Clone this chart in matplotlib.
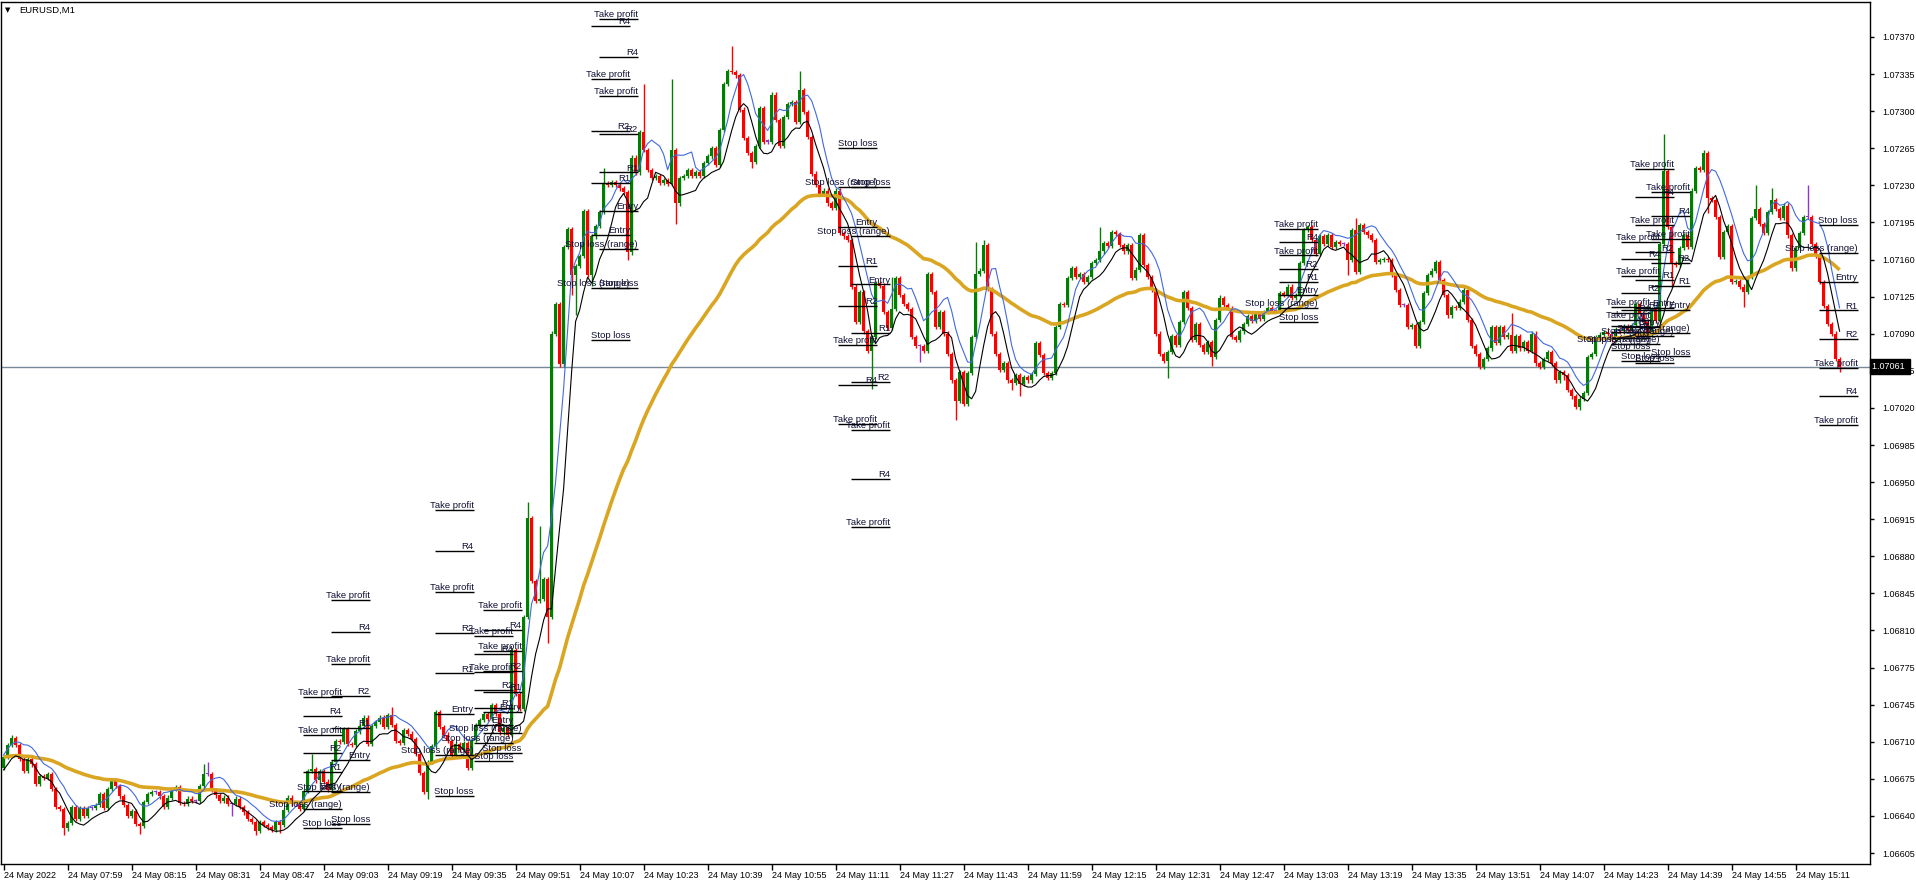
import numpy as np
import pandas as pd
import matplotlib
matplotlib.use('Agg')
import matplotlib.pyplot as plt
import matplotlib.transforms as mtransforms

plt.rcParams['font.family'] = ['Liberation Sans', 'DejaVu Sans']

# EURUSD M1, 24 May 2022 from 07:43, one close per minute, in points above 1.06000
closes = [
    695, 706, 713, 706, 693, 682, 693, 688, 670, 677, 675, 679, 665, 648, 646, 628, 633, 648, 637, 647,
    640, 647, 647, 650, 660, 647, 665, 673, 668, 658, 650, 640, 644, 632, 630, 653, 660, 662, 662, 658,
    648, 657, 665, 667, 652, 651, 656, 654, 654, 668, 679, 679, 664, 659, 654, 657, 651, 651, 656, 648,
    643, 637, 634, 626, 634, 631, 629, 627, 634, 631, 645, 657, 651, 651, 646, 663, 682, 684, 673, 682,
    672, 664, 690, 710, 709, 721, 707, 706, 719, 724, 732, 707, 724, 728, 732, 723, 734, 725, 710, 708,
    720, 717, 712, 698, 680, 662, 690, 705, 737, 723, 716, 710, 697, 707, 702, 708, 685, 711, 725, 730,
    735, 731, 744, 735, 718, 722, 716, 795, 754, 740, 826, 919, 860, 841, 843, 862, 826, 1092, 1120, 1063,
    1173, 1190, 1147, 1155, 1165, 1207, 1147, 1183, 1193, 1206, 1233, 1231, 1234, 1231, 1228, 1225, 1168, 1257, 1243, 1281,
    1264, 1245, 1238, 1240, 1233, 1236, 1232, 1264, 1214, 1238, 1240, 1245, 1240, 1243, 1240, 1252, 1258, 1266, 1250, 1283,
    1326, 1338, 1337, 1334, 1302, 1275, 1261, 1253, 1268, 1303, 1272, 1272, 1316, 1292, 1268, 1295, 1307, 1309, 1290, 1320,
    1300, 1276, 1242, 1231, 1223, 1226, 1214, 1210, 1226, 1186, 1183, 1180, 1136, 1103, 1131, 1094, 1076, 1089, 1139, 1137,
    1112, 1097, 1115, 1144, 1128, 1120, 1115, 1089, 1080, 1080, 1076, 1148, 1131, 1098, 1112, 1092, 1073, 1048, 1029, 1056,
    1026, 1055, 1089, 1148, 1151, 1175, 1134, 1092, 1073, 1058, 1064, 1048, 1046, 1053, 1045, 1051, 1048, 1054, 1083, 1072,
    1055, 1050, 1055, 1098, 1120, 1119, 1144, 1153, 1145, 1148, 1140, 1145, 1158, 1161, 1169, 1177, 1174, 1187, 1185, 1175,
    1169, 1175, 1144, 1152, 1184, 1156, 1145, 1133, 1092, 1073, 1066, 1075, 1090, 1081, 1103, 1131, 1116, 1086, 1101, 1081,
    1075, 1084, 1070, 1105, 1125, 1119, 1116, 1089, 1086, 1094, 1101, 1108, 1104, 1111, 1106, 1112, 1116, 1113, 1113, 1130,
    1128, 1136, 1125, 1128, 1158, 1189, 1192, 1180, 1167, 1183, 1176, 1184, 1173, 1178, 1176, 1176, 1161, 1189, 1150, 1194,
    1187, 1184, 1180, 1159, 1161, 1162, 1161, 1147, 1133, 1119, 1119, 1098, 1100, 1080, 1103, 1130, 1147, 1151, 1159, 1142,
    1128, 1109, 1117, 1116, 1122, 1133, 1105, 1080, 1073, 1061, 1068, 1078, 1098, 1083, 1098, 1089, 1091, 1076, 1090, 1078,
    1084, 1076, 1092, 1064, 1061, 1068, 1075, 1064, 1048, 1056, 1053, 1039, 1033, 1023, 1031, 1036, 1070, 1073, 1089, 1091,
    1093, 1092, 1086, 1096, 1094, 1099, 1095, 1100, 1120, 1110, 1103, 1092, 1115, 1104, 1176, 1244, 1192, 1158, 1156, 1172,
    1184, 1173, 1226, 1247, 1245, 1261, 1219, 1217, 1201, 1164, 1187, 1193, 1140, 1141, 1136, 1131, 1145, 1200, 1209, 1195,
    1186, 1206, 1217, 1209, 1200, 1212, 1184, 1153, 1172, 1186, 1201, 1201, 1176, 1165, 1140, 1118, 1101, 1092, 1068, 1061,
]
first_open = 685

# long wicks (bar -> points)
wick_highs = {2: 716, 50: 688, 51: 690, 77: 698, 97: 742, 131: 934, 134: 912, 150: 1247,
              160: 1326, 167: 1331, 182: 1362, 199: 1338, 222: 1145, 243: 1178, 245: 1180,
              274: 1192, 304: 1128, 338: 1200, 358: 1161, 365: 1136, 377: 1111, 415: 1279,
              425: 1264, 438: 1231, 442: 1228, 451: 1231}
wick_lows = {15: 622, 34: 623, 57: 640, 63: 622, 69: 624, 106: 656, 136: 802, 142: 1128,
             143: 1109, 147: 1137, 156: 1161, 168: 1195, 187: 1247, 217: 1040, 229: 1065,
             238: 1011, 252: 1039, 254: 1033, 291: 1050, 302: 1062, 336: 1147, 390: 1048,
             394: 1020, 417: 1136, 426: 1205, 435: 1117, 459: 1056}

# trade level objects: right end (bar), entry (points), level spacing (points, < 0 = short)
setup_end = [84.5, 91.6, 117.5, 127.4, 129.5, 156.6, 158.6, 218.4, 221.6, 328.6,
             411.6, 414.1, 417.6, 421.6, 463.5]
setup_entry = [663.5, 692, 735, 724.6, 737, 1184, 1207, 1192, 1138, 1128,
               1087.7, 1098, 1116, 1114.5, 1140.4]
setup_step = [17.5, 30, 38.3, 16.8, 19.2, 49, 36, -37, -45.5, 12.4,
              5.8, 16, 26, 22, -26.8]
level_names = [(5, 'Take profit'), (4, 'R4'), (3, 'Take profit'), (2, 'R2'), (1, 'R1'),
               (0, 'Entry'), (-1, 'Stop loss (range)'), (-2, 'Stop loss')]

time_labels = ['24 May 2022', '24 May 07:59', '24 May 08:15', '24 May 08:31', '24 May 08:47',
               '24 May 09:03', '24 May 09:19', '24 May 09:35', '24 May 09:51', '24 May 10:07',
               '24 May 10:23', '24 May 10:39', '24 May 10:55', '24 May 11:11', '24 May 11:27',
               '24 May 11:43', '24 May 11:59', '24 May 12:15', '24 May 12:31', '24 May 12:47',
               '24 May 13:03', '24 May 13:19', '24 May 13:35', '24 May 13:51', '24 May 14:07',
               '24 May 14:23', '24 May 14:39', '24 May 14:55', '24 May 15:11']
price_labels = ['1.07370', '1.07335', '1.07300', '1.07265', '1.07230', '1.07195', '1.07160',
                '1.07125', '1.07090', '1.07055', '1.07020', '1.06985', '1.06950', '1.06915',
                '1.06880', '1.06845', '1.06810', '1.06775', '1.06745', '1.06710', '1.06675',
                '1.06640', '1.06605']
last_price = 1.07061

pt = 1e-5
cl_pts = np.array(closes)
op_pts = np.r_[first_open, cl_pts[:-1]]
c = 1.06 + cl_pts * pt
o = 1.06 + op_pts * pt
hi = np.maximum(o, c) + 2 * pt
lo = np.minimum(o, c) - 2 * pt
for k, v in wick_highs.items():
    hi[k] = max(hi[k], 1.06 + v * pt)
for k, v in wick_lows.items():
    lo[k] = min(lo[k], 1.06 + v * pt)
n = len(c)
x = np.arange(n)

fig = plt.figure(figsize=(19.16, 8.8), dpi=100)
ax = fig.add_axes([1 / 1916, 16 / 880, 1869 / 1916, 862 / 880])
y0, y1 = 1.065947, 1.074028
ax.set_xlim(-0.65, 466.6)
ax.set_ylim(y0, y1)

# candles
cols = np.where(cl_pts > op_pts, '#008000', np.where(cl_pts < op_pts, '#ff0000', '#9932cc'))
ax.vlines(x, lo, hi, colors=cols, linewidth=1, zorder=2)
ax.bar(x, np.maximum(np.abs(c - o), pt), bottom=np.minimum(o, c), width=0.72,
       color=cols, linewidth=0, zorder=3)

# moving averages
ma_orange = pd.Series(c).ewm(span=55, adjust=False).mean()
ma_blue = pd.Series(hi).rolling(6, min_periods=1).mean()
ma_black = pd.Series(lo).rolling(6, min_periods=1).mean()
ax.plot(x, ma_orange, color='#daa520', lw=2.6, zorder=4, solid_capstyle='butt')
ax.plot(x, ma_blue, color='#4169e1', lw=0.8, zorder=5)
ax.plot(x, ma_black, color='black', lw=0.8, zorder=5)

ax.axhline(last_price, color='#778899', lw=1, zorder=1)

# level lines with their names
for xe, en, st in zip(setup_end, setup_entry, setup_step):
    for k, name in level_names:
        y = 1.06 + (en + k * st) * pt
        if not (y0 < y < y1):
            continue
        ax.plot([xe - 9.75, xe], [y, y], color='black', lw=1, zorder=6, solid_capstyle='butt')
        ax.annotate(name, (xe, y), xytext=(0, 1.4), textcoords='offset points',
                    ha='right', va='baseline', fontsize=6.8, color='#101035', zorder=7)

# axes
for s in ax.spines.values():
    s.set_linewidth(1)
    s.set_color('black')
ax.yaxis.tick_right()
ax.set_yticks(np.linspace(1.07370, 1.06605, len(price_labels)))
ax.set_yticklabels(price_labels)
ax.tick_params(axis='y', direction='out', length=3, width=1, pad=6, labelsize=6.5)
ax.set_xticks(np.arange(0, n, 16))
ax.set_xticklabels(time_labels, ha='left')
ax.tick_params(axis='x', direction='out', length=4, width=1, pad=1, labelsize=6.5)

trans = mtransforms.blended_transform_factory(ax.transAxes, ax.transData)
ax.text(1.0012, last_price, '1.07061 ', transform=trans, ha='left', va='center',
        fontsize=6.5, color='white', zorder=10, clip_on=False,
        bbox=dict(boxstyle='square,pad=0.3', fc='black', ec='black'))

fig.text(5 / 1916, 1 - 10 / 880, '\u25bc', fontsize=5, family='DejaVu Sans', va='center')
fig.text(19 / 1916, 1 - 10 / 880, 'EURUSD,M1', fontsize=6.8, va='center')

fig.savefig('out.png', dpi=100)
